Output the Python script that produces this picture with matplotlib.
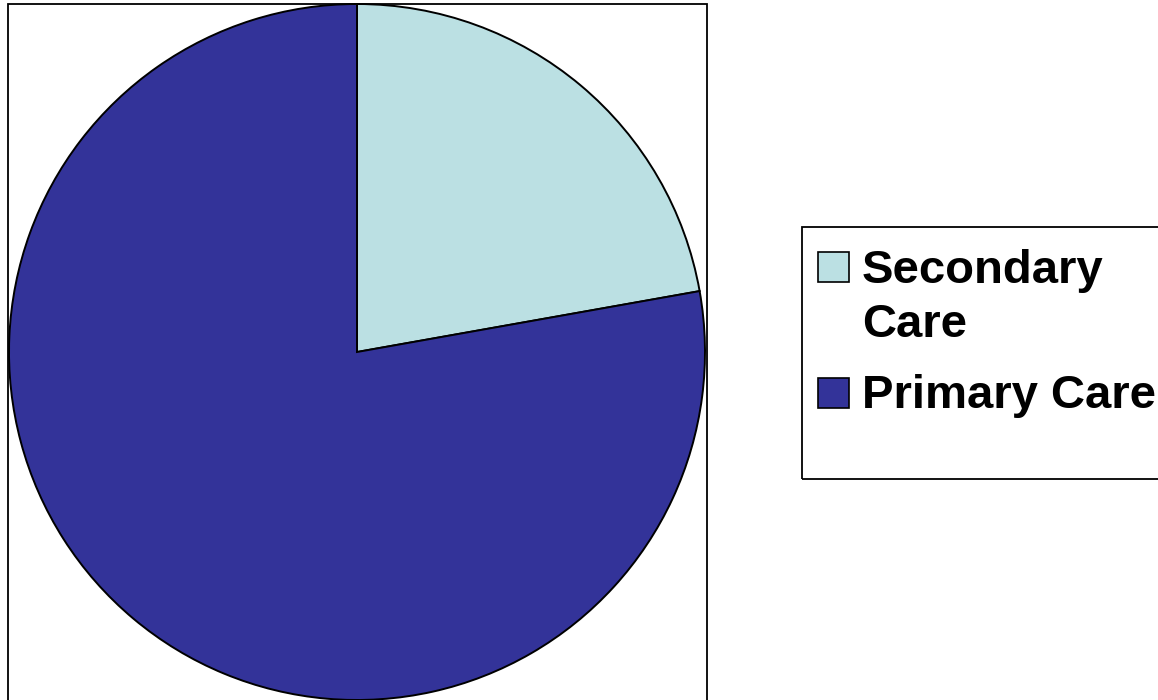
import matplotlib
matplotlib.use("Agg")
import matplotlib.pyplot as plt
from matplotlib.patches import Rectangle

labels = ["Secondary Care", "Primary Care"]
legend_lines = [["Secondary", "Care"], ["Primary Care"]]
values = [22.2, 77.8]
colors = ["#BBE0E3", "#333399"]

W, H = 1158, 700
fig = plt.figure(figsize=(W / 100, H / 100), dpi=100)
fig.patch.set_facecolor("white")

def fx(px):
    return px / W

def fy(py):
    return 1 - py / H

# pie axes: centre (357, 352) px, radius 348 px
cx, cy, r = 357, 352, 348
ax = fig.add_axes([fx(cx - r), fy(cy + r), 2 * r / W, 2 * r / H])
ax.pie(values, colors=colors, startangle=90, counterclock=False, radius=1,
       wedgeprops=dict(edgecolor="black", linewidth=1.4))
ax.set_xlim(-1, 1)
ax.set_ylim(-1, 1)
ax.set_aspect("equal")
ax.axis("off")

# plot-area frame
fig.add_artist(Rectangle((fx(8), fy(704)), fx(707) - fx(8), fy(4) - fy(704),
                         transform=fig.transFigure, fill=False,
                         edgecolor="black", linewidth=1.3, clip_on=False))

# legend box
fig.add_artist(Rectangle((fx(802), fy(479)), fx(1170) - fx(802), fy(227) - fy(479),
                         transform=fig.transFigure, fill=False,
                         edgecolor="black", linewidth=1.3, clip_on=False))

patch_tops = [252, 378]
first_baselines = [283, 408]
line_gap = 54
for lines, col, ptop, base in zip(legend_lines, colors, patch_tops, first_baselines):
    fig.add_artist(Rectangle((fx(818), fy(ptop + 30)), fx(849) - fx(818), fy(ptop) - fy(ptop + 30),
                             transform=fig.transFigure, facecolor=col,
                             edgecolor="black", linewidth=1.2))
    for i, ln in enumerate(lines):
        fig.text(fx(862), fy(base + i * line_gap), ln, fontsize=34,
                 fontweight="bold", family="Liberation Sans",
                 va="baseline", ha="left", color="black")

fig.savefig("out.png", dpi=100, facecolor="white")
